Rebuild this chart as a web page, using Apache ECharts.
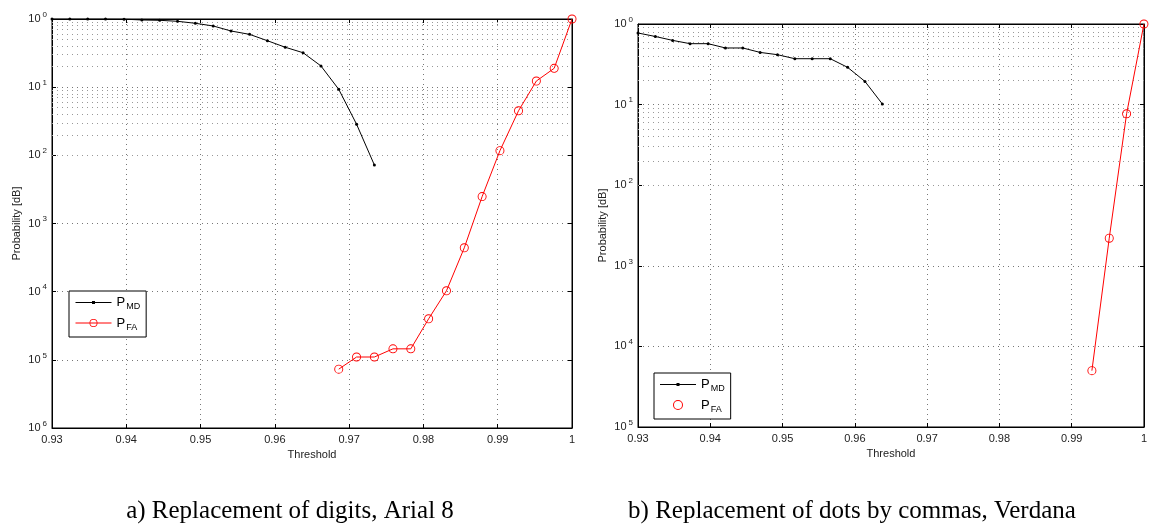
<!DOCTYPE html>
<html>
<head>
<meta charset="utf-8">
<script src="https://cdn.jsdelivr.net/npm/echarts@6/dist/echarts.min.js"></script>
<style>
  html, body { margin: 0; padding: 0; background: #fff; }
  #chart { width: 1150px; height: 527px; }
</style>
</head>
<body>
<div id="chart"></div>
<script>
// shared threshold grid (x)
const thresholds = [0.93, 0.9324, 0.9348, 0.9372, 0.9397, 0.9421, 0.9445, 0.9469, 0.9493, 0.9517,
    0.9541, 0.9566, 0.959, 0.9614, 0.9638, 0.9662, 0.9686, 0.971, 0.9734, 0.9759,
    0.9783, 0.9807, 0.9831, 0.9855, 0.9879, 0.9903, 0.9928, 0.9952, 0.9976, 1];

// a) Arial 8
const pmdA = [1, 1, 1, 1, 0.995, 0.967, 0.957, 0.925, 0.865, 0.79, 0.667, 0.595, 0.48, 0.385,
    0.32, 0.205, 0.093, 0.0286, 0.0072];
const pfaAStart = 16;
const pfaA = [7.3e-6, 1.1e-5, 1.1e-5, 1.45e-5, 1.45e-5, 4.0e-5, 1.03e-4, 4.4e-4, 2.48e-3,
    0.0117, 0.045, 0.123, 0.189, 1];

// b) Verdana
const pmdB = [0.773, 0.70, 0.626, 0.57, 0.57, 0.504, 0.504, 0.444, 0.416, 0.371, 0.371, 0.371,
    0.29, 0.194, 0.102];
const pfaBStart = 26;
const pfaB = [5.0e-5, 2.2e-3, 0.077, 1];

// tick labels (the exponents lost their minus sign in the original)
const xLabels = ['0.93', '0.94', '0.95', '0.96', '0.97', '0.98', '0.99', '1'];
const yExpA = ['0', '1', '2', '3', '4', '5', '6'];
const yExpB = ['0', '1', '2', '3', '4', '5'];

const captions = ['a) Replacement of digits, Arial 8', 'b) Replacement of dots by commas, Verdana'];
const legendNames = {PMD_a: 'MD', PFA_a: 'FA', PMD_b: 'MD', PFA_b: 'FA'};

const font = '"Liberation Sans", Arial, sans-serif';
const dotted = {color: '#777', width: 1, type: [1, 4]};
// thin line with a small dot, like the MATLAB '.-' legend entry
const dotLineIcon = 'path://M0,4.5h36v1h-36z M16.5,3.5h3v3h-3z';
// thin hollow circle drawn as a filled ring ('o' marker)
const ringPath = 'path://M0,5a5,5 0 1,0 10,0a5,5 0 1,0 -10,0zM1,5a4,4 0 1,1 8,0a4,4 0 1,1 -8,0z';

function pairs(vals, start) {
    return vals.map((v, i) => [thresholds[start + i], v]);
}

function minorLines(lo) {
    let out = [];
    for (let e = lo; e < 0; e++) {
        for (let m = 2; m <= 9; m++) out.push({yAxis: m * Math.pow(10, e)});
    }
    return out;
}

function xAxis(grid, top) {
    return {
        type: 'value', gridIndex: grid, min: 0.93, max: 1, interval: 0.01,
        position: top ? 'top' : 'bottom',
        axisLine: {show: true, onZero: false, lineStyle: {color: '#000', width: 1}},
        axisTick: {show: true, inside: true, length: 4, lineStyle: {color: '#000'}},
        axisLabel: {
            show: !top, color: '#222', fontFamily: font, fontSize: 11, margin: 6,
            formatter: v => xLabels[Math.round((v - 0.93) * 100)]
        },
        splitLine: {show: !top, lineStyle: dotted},
        name: top ? '' : 'Threshold', nameLocation: 'middle', nameGap: 20,
        nameTextStyle: {color: '#222', fontFamily: font, fontSize: 11}
    };
}

function yAxis(grid, lo, exps, right) {
    return {
        type: 'log', logBase: 10, gridIndex: grid, min: Math.pow(10, lo), max: 1,
        position: right ? 'right' : 'left',
        axisLine: {show: true, onZero: false, lineStyle: {color: '#000', width: 1}},
        axisTick: {show: true, inside: true, length: 4, lineStyle: {color: '#000'}},
        axisLabel: {
            show: !right, margin: 5,
            formatter: v => '{b|10}{s|' + exps[Math.round(-Math.log10(v))] + '}',
            rich: {
                b: {color: '#222', fontFamily: font, fontSize: 11},
                s: {color: '#222', fontFamily: font, fontSize: 8, padding: [0, 0, 9, 2]}
            }
        },
        splitLine: {show: !right, lineStyle: dotted},
        name: right ? '' : 'Probability [dB]', nameLocation: 'middle', nameGap: 30,
        nameTextStyle: {color: '#222', fontFamily: font, fontSize: 11}
    };
}

function legend(left, top, data) {
    return {
        orient: 'vertical', left: left, top: top, selectedMode: false,
        backgroundColor: '#fff', borderColor: '#000', borderWidth: 1, borderRadius: 0,
        padding: [5, 6, 5, 6], itemGap: 5, itemWidth: 36, itemHeight: 10,
        lineStyle: {width: 1},
        data: data,
        formatter: n => '{p|P}{s|' + legendNames[n] + '}',
        textStyle: {
            rich: {
                p: {color: '#000', fontFamily: font, fontSize: 13},
                s: {color: '#000', fontFamily: font, fontSize: 9, padding: [9, 0, 0, 1]}
            }
        }
    };
}

const blackLine = {
    type: 'line', symbol: 'circle', symbolSize: 3, showSymbol: true,
    itemStyle: {color: '#000'}, lineStyle: {color: '#000', width: 1}, z: 5
};
const redLine = {
    type: 'line', symbol: ringPath, symbolSize: 9, showSymbol: true,
    itemStyle: {color: '#f00'}, lineStyle: {color: '#f00', width: 1}, z: 5
};

function gridMarks(lo) {
    return {
        silent: true, symbol: 'none', label: {show: false},
        lineStyle: {color: '#999', width: 1, type: [1, 4]},
        emphasis: {disabled: true},
        data: minorLines(lo)
    };
}

const chart = echarts.init(document.getElementById('chart'), null, {renderer: 'canvas'});
chart.setOption({
    backgroundColor: '#fff',
    animation: false,
    grid: [
        {left: 52, top: 19, width: 520, height: 409, show: true, borderColor: '#000', borderWidth: 1},
        {left: 638, top: 24, width: 511, height: 403, show: true, borderColor: '#000', borderWidth: 1}
    ],
    xAxis: [xAxis(0, false), xAxis(0, true), xAxis(1, false), xAxis(1, true)],
    yAxis: [yAxis(0, -6, yExpA, false), yAxis(0, -6, yExpA, true),
            yAxis(1, -5, yExpB, false), yAxis(1, -5, yExpB, true)],
    legend: [
        legend(69, 291, [{name: 'PMD_a', icon: dotLineIcon}, 'PFA_a']),
        legend(654, 373, [{name: 'PMD_b', icon: dotLineIcon}, {name: 'PFA_b', icon: ringPath}])
    ],
    series: [
        Object.assign({}, blackLine, {name: 'PMD_a', xAxisIndex: 0, yAxisIndex: 0,
            data: pairs(pmdA, 0), markLine: gridMarks(-6)}),
        Object.assign({}, redLine, {name: 'PFA_a', xAxisIndex: 0, yAxisIndex: 0,
            data: pairs(pfaA, pfaAStart)}),
        Object.assign({}, blackLine, {name: 'PMD_b', xAxisIndex: 2, yAxisIndex: 2,
            data: pairs(pmdB, 0), markLine: gridMarks(-5)}),
        Object.assign({}, redLine, {name: 'PFA_b', xAxisIndex: 2, yAxisIndex: 2,
            data: pairs(pfaB, pfaBStart)})
    ],
    graphic: [
        {type: 'text', x: 290, y: 511, style: {text: captions[0], fill: '#000',
            font: '25px "Liberation Serif", serif', textAlign: 'center', textVerticalAlign: 'middle'}},
        {type: 'text', x: 852, y: 511, style: {text: captions[1], fill: '#000',
            font: '25px "Liberation Serif", serif', textAlign: 'center', textVerticalAlign: 'middle'}}
    ]
});
</script>
</body>
</html>
